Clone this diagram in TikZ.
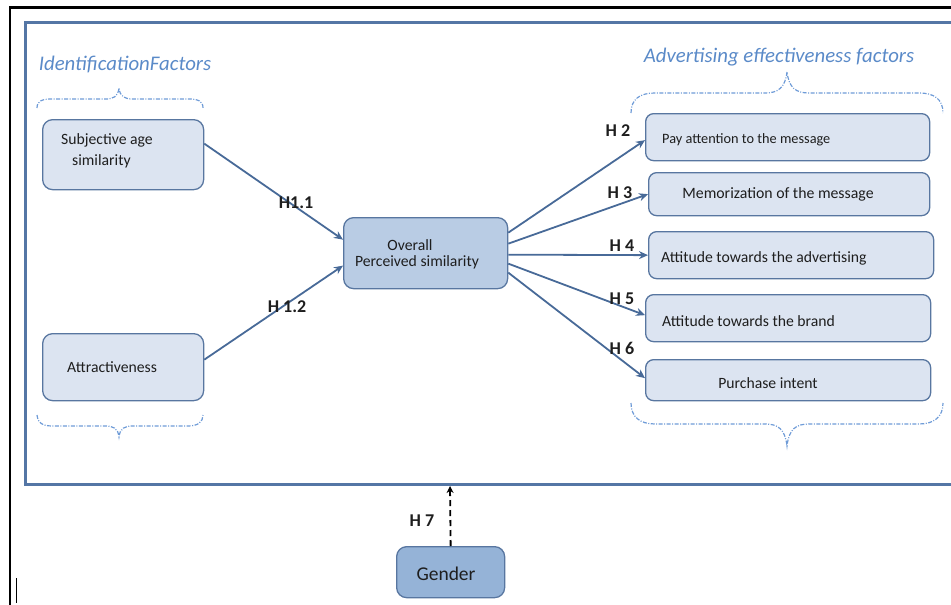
\documentclass[tikz,border=0pt]{standalone}
\usepackage{fontspec}
\setmainfont{Carlito}
\usetikzlibrary{arrows.meta}
\definecolor{boxfill}{RGB}{220,228,241}
\definecolor{boxdraw}{RGB}{88,118,160}
\definecolor{midfill}{RGB}{185,204,228}
\definecolor{gfill}{RGB}{149,179,215}
\definecolor{arrowc}{RGB}{72,106,152}
\definecolor{framec}{RGB}{84,118,165}
\definecolor{titlec}{RGB}{90,138,200}
\definecolor{bracec}{RGB}{110,155,215}
\definecolor{textc}{RGB}{30,30,30}
\tikzset{
  boxa/.style={draw=boxdraw, line width=1.3pt, fill=boxfill, rounded corners=10pt, inner sep=0pt, anchor=north west},
  boxr/.style={draw=boxdraw, line width=1.3pt, fill=boxfill, rounded corners=8pt, inner sep=0pt, anchor=north west},
  txt/.style={inner sep=0pt, text=textc, font=\fontsize{15.7}{18}\selectfont},
  hlab/.style={inner sep=0pt, text=textc, font=\fontsize{18}{20}\selectfont\bfseries},
  conn/.style={draw=arrowc, line width=1.8pt, -{Stealth[length=9pt,width=8pt]}},
  bracep/.style={draw=bracec, line width=1.2pt, dash pattern=on 4pt off 1.5pt on 1pt off 1.5pt},
  ttl/.style={inner sep=0pt, text=titlec, font=\fontsize{20.8}{23}\selectfont\itshape}
}
\begin{document}
\begin{tikzpicture}[x=1pt,y=-1pt]
\useasboundingbox (0,0) rectangle (951,605);
% outer black frame
\draw[line width=2.5pt, black] (951,7.5) -- (10,7.5) -- (10,605);
\draw[line width=1.5pt, black] (16.5,578) -- (16.5,603);
% inner blue frame
\draw[line width=3pt, framec] (960,22.5) -- (25.5,22.5) -- (25.5,484) -- (960,484);
\coordinate (fb) at (450,486);

% titles
\node[ttl] (t1) at (125,65) {IdentificationFactors};
\node[ttl] (t2) at (779,57) {Advertising effectiveness factors};

% braces
\draw[bracep] (37,108) .. controls (37,101) and (42,99) .. (52,99) -- (105,99) .. controls (113,99) and (118,97) .. (119,88) .. controls (120,97) and (125,99) .. (133,99) -- (188,99) .. controls (198,99) and (203,101) .. (203,108);
\draw[bracep] (37,415) .. controls (37,422) and (42,426) .. (52,426) -- (105,426) .. controls (113,426) and (118,428) .. (119,437) .. controls (120,428) and (125,426) .. (133,426) -- (188,426) .. controls (198,426) and (203,422) .. (203,415);
\draw[bracep] (631,113) .. controls (631,99) and (640,93) .. (655,93) -- (765,93) .. controls (778,93) and (785,88) .. (787,72) .. controls (789,88) and (796,93) .. (809,93) -- (919,93) .. controls (934,93) and (943,99) .. (943,113);
\draw[bracep] (631,403) .. controls (631,417) and (640,424) .. (655,424) -- (765,424) .. controls (778,424) and (785,429) .. (787,446) .. controls (789,429) and (796,424) .. (809,424) -- (919,424) .. controls (934,424) and (943,417) .. (943,403);

% left boxes
\node[boxa, minimum width=161pt, minimum height=70pt] (A) at (42,119) {};
\node[txt, anchor=west] (A1) at (61,140) {Subjective age};
\node[txt, anchor=west] (A2) at (72,161) {similarity};
\node[boxa, minimum width=161pt, minimum height=67pt] (B) at (42,333) {};
\node[txt, anchor=west] (B1) at (67,367) {Attractiveness};

% centre
\node[boxa, fill=midfill, minimum width=164pt, minimum height=71pt] (C) at (343,217) {};
\node[txt] (C1) at (410,245) {Overall};
\node[txt] (C2) at (417,262) {Perceived similarity};

% right boxes
\node[boxr, minimum width=284pt, minimum height=47pt] (P1) at (645,113) {};
\node[txt, anchor=west, font=\fontsize{14.3}{16}\selectfont] (P1t) at (662,140) {Pay attention to the message};
\node[boxr, minimum width=281pt, minimum height=43pt] (P2) at (648,172) {};
\node[txt, font=\fontsize{15.8}{18}\selectfont] (P2t) at (778,194) {Memorization of the message};
\node[boxr, minimum width=285pt, minimum height=47pt] (P3) at (648,231) {};
\node[txt, anchor=west] (P3t) at (661,258) {Attitude towards the advertising};
\node[boxr, minimum width=285pt, minimum height=47pt] (P4) at (645,294) {};
\node[txt, anchor=west] (P4t) at (662,321) {Attitude towards the brand};
\node[boxr, minimum width=285pt, minimum height=41pt] (P5) at (645,359) {};
\node[txt] (P5t) at (768,383) {Purchase intent};

% gender
\node[boxa, fill=gfill, minimum width=108pt, minimum height=51pt] (G) at (396,546) {};
\node[txt, font=\fontsize{19.5}{21}\selectfont] (Gt) at (446,574) {Gender};

% connectors
\draw[conn] ([yshift=11pt]A.east) -- ([yshift=13.5pt]C.west);
\draw[conn] ([yshift=7.5pt]B.east) -- ([yshift=-12.5pt]C.west);
\draw[conn] ([yshift=20.5pt]C.east) -- ([yshift=-3pt]P1.west);
\draw[conn] ([yshift=9.5pt]C.east) -- (P2.west);
\draw[conn] ([yshift=-1.5pt]C.east) -- (P3.west);
\draw[conn] ([yshift=-10.5pt]C.east) -- ([yshift=3pt]P4.west);
\draw[conn] ([yshift=-19.5pt]C.east) -- ([yshift=2pt]P5.west);
\draw[black, line width=1.8pt, dash pattern=on 6pt off 4pt, -{Stealth[length=7pt,width=7pt]}] (G.north) -- (fb);

% labels
\node[hlab] (h11) at (296,203) {H1.1};
\node[hlab] (h12) at (287,307) {H 1.2};
\node[hlab] (h2) at (618,131) {H 2};
\node[hlab] (h3) at (620,193) {H 3};
\node[hlab] (h4) at (622,246) {H 4};
\node[hlab] (h5) at (622,299) {H 5};
\node[hlab] (h6) at (622,348) {H 6};
\node[hlab] (h7) at (422,521) {H 7};
\end{tikzpicture}
\end{document}
